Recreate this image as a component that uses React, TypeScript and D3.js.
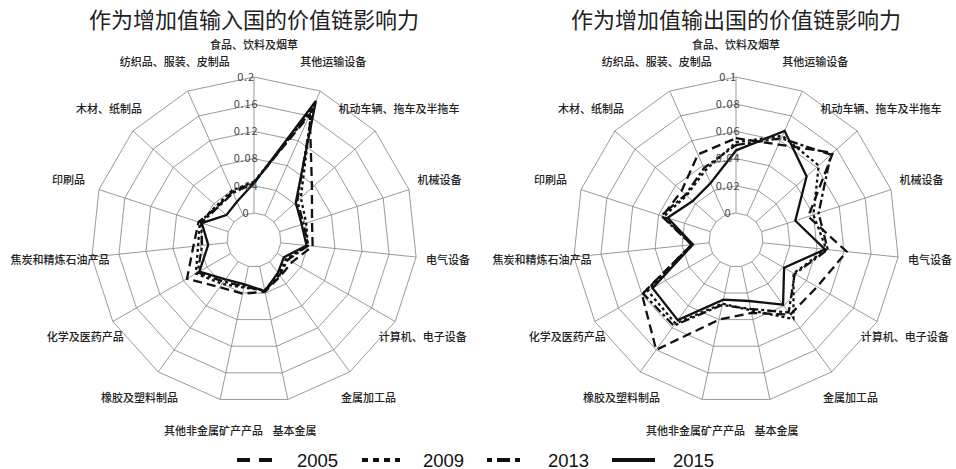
import React from "react";
import * as d3 from "d3";

const categories = [
  "食品、饮料及烟草",
  "其他运输设备",
  "机动车辆、拖车及半拖车",
  "机械设备",
  "电气设备",
  "计算机、电子设备",
  "金属加工品",
  "基本金属",
  "其他非金属矿产产品",
  "橡胶及塑料制品",
  "化学及医药产品",
  "焦炭和精炼石油产品",
  "印刷品",
  "木材、纸制品",
  "纺织品、服装、皮制品",
];

const years = ["2005", "2009", "2013", "2015"];

// 作为增加值输入国
const input2005 = [0.045, 0.162, 0.075, 0.05, 0.047, 0.025, 0.026, 0.038, 0.041, 0.046, 0.074, 0.05, 0.046, 0.033, 0.038];
const input2009 = [0.046, 0.168, 0.053, 0.041, 0.04, 0.015, 0.022, 0.036, 0.032, 0.04, 0.059, 0.043, 0.044, 0.035, 0.04];
const input2013 = [0.044, 0.172, 0.046, 0.037, 0.04, 0.018, 0.024, 0.037, 0.03, 0.036, 0.056, 0.037, 0.042, 0.032, 0.036];
const input2015 = [0.044, 0.184, 0.043, 0.034, 0.038, 0.011, 0.02, 0.037, 0.027, 0.032, 0.053, 0.028, 0.041, 0.015, 0.022];

// 作为增加值输出国
const output2005 = [0.055, 0.057, 0.076, 0.036, 0.062, 0.049, 0.048, 0.035, 0.04, 0.08, 0.06, 0.013, 0.037, 0.034, 0.049];
const output2009 = [0.052, 0.064, 0.062, 0.04, 0.047, 0.029, 0.052, 0.033, 0.028, 0.056, 0.055, 0.012, 0.036, 0.029, 0.036];
const output2013 = [0.05, 0.062, 0.074, 0.044, 0.048, 0.03, 0.046, 0.032, 0.029, 0.058, 0.059, 0.013, 0.038, 0.03, 0.038];
const output2015 = [0.046, 0.068, 0.05, 0.026, 0.046, 0.021, 0.039, 0.026, 0.025, 0.053, 0.051, 0.012, 0.033, 0.023, 0.026];

const inputTicks = [0, 0.04, 0.08, 0.12, 0.16, 0.2];
const outputTicks = [0, 0.02, 0.04, 0.06, 0.08, 0.1];
const inputTickLabels = ["0", "0.04", "0.08", "0.12", "0.16", "0.2"];
const outputTickLabels = ["0", "0.02", "0.04", "0.06", "0.08", "0.1"];

const dashes = ["9,5", "3,3", "9,3,3,3", ""];
const legendDashes = ["13,9", "6,5", "5,5,13,5", ""];

const CJK = "'Noto Sans CJK SC', 'Noto Sans', sans-serif";

type RadarProps = {
  cx: number;
  cy: number;
  title: string;
  ticks: number[];
  tickLabels: string[];
  series: number[][];
};

function Radar({ cx, cy, title, ticks, tickLabels, series }: RadarProps) {
  const n = categories.length;
  const angle = d3.scaleLinear().domain([0, n]).range([0, 2 * Math.PI]);
  const r = d3.scaleLinear().domain([ticks[0], ticks[ticks.length - 1]]).range([27, 163]);
  const ringLine = d3
    .lineRadial<number>()
    .angle((_, i) => angle(i))
    .radius((d) => r(d))
    .curve(d3.curveLinearClosed);
  const labelR = 195;
  const idx = d3.range(n);
  return (
    <g>
      <text x={cx} y={28} textAnchor="middle" fontFamily={CJK} fontSize={22} fill="#222">
        {title}
      </text>
      <g transform={`translate(${cx},${cy})`}>
        {ticks.map((t, k) => (
          <path key={"ring" + k} d={ringLine(idx.map(() => t)) || ""} fill="none" stroke="#808080" strokeWidth={0.8} />
        ))}
        {idx.map((i) => {
          const a = angle(i);
          const r0 = r(ticks[0]);
          const r1 = r(ticks[ticks.length - 1]);
          return (
            <line
              key={"spoke" + i}
              x1={r0 * Math.sin(a)}
              y1={-r0 * Math.cos(a)}
              x2={r1 * Math.sin(a)}
              y2={-r1 * Math.cos(a)}
              stroke="#808080"
              strokeWidth={0.8}
            />
          );
        })}
        {series.map((s, k) => (
          <path
            key={"s" + k}
            d={ringLine(s) || ""}
            fill="none"
            stroke="#111"
            strokeWidth={2.3}
            strokeDasharray={dashes[k] || undefined}
            strokeLinejoin="miter"
          />
        ))}
        {ticks.map((t, k) => (
          <text
            key={"tl" + k}
            x={-8}
            y={-r(t)}
            dy="0.35em"
            textAnchor="middle"
            fontFamily={CJK}
            fontSize={11}
            fill="#444"
            letterSpacing={0.8}
          >
            {tickLabels[k]}
          </text>
        ))}
        {idx.map((i) => {
          const a = angle(i);
          return (
            <text
              key={"cl" + i}
              x={labelR * Math.sin(a)}
              y={-labelR * Math.cos(a)}
              dy="0.35em"
              textAnchor="middle"
              fontFamily={CJK}
              fontSize={11}
              fontWeight={500}
              fill="#222"
            >
              {categories[i]}
            </text>
          );
        })}
      </g>
    </g>
  );
}

export default function App() {
  const legendX = d3.scaleOrdinal<string, number>().domain(years).range([237, 362, 487, 612]);
  const legendW = [35, 38, 36, 43];
  const legendTextX = [297, 423, 548, 673];
  return (
    <svg
      width={956}
      height={469}
      style={{ position: "absolute", left: 0, top: 0, background: "#fff" }}
    >
      <rect width={956} height={469} fill="#fff" />
      <Radar
        cx={254}
        cy={240}
        title="作为增加值输入国的价值链影响力"
        ticks={inputTicks}
        tickLabels={inputTickLabels}
        series={[input2005, input2009, input2013, input2015]}
      />
      <Radar
        cx={736}
        cy={240}
        title="作为增加值输出国的价值链影响力"
        ticks={outputTicks}
        tickLabels={outputTickLabels}
        series={[output2005, output2009, output2013, output2015]}
      />
      {years.map((y, k) => (
        <g key={y}>
          <line
            x1={legendX(y)}
            x2={legendX(y) + legendW[k]}
            y1={460}
            y2={460}
            stroke="#111"
            strokeWidth={4}
            strokeDasharray={legendDashes[k] || undefined}
          />
          <text
            x={legendTextX[k]}
            y={460}
            dominantBaseline="central"
            fontFamily="'Liberation Sans', Arial, sans-serif"
            fontSize={18.5}
            fill="#111"
          >
            {y}
          </text>
        </g>
      ))}
    </svg>
  );
}
